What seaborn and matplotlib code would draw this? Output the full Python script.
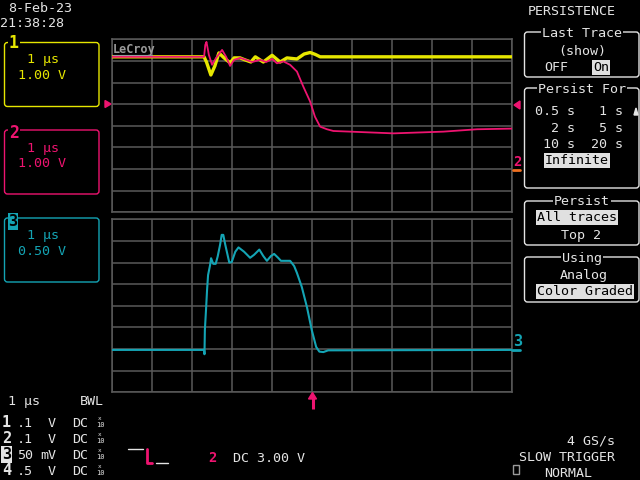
import numpy as np
import pandas as pd
import seaborn as sns
import matplotlib
matplotlib.use("Agg")
import matplotlib.pyplot as plt
from matplotlib.patches import FancyBboxPatch, Rectangle, Polygon

# ---------------- data (time in µs, values in volts) ----------------
ch1_t = [0, 2.30, 2.36, 2.47, 2.57, 2.67, 2.80, 2.95, 3.05, 3.20, 3.32, 3.47, 3.58,
         3.78, 4.00, 4.20, 4.37, 4.62, 4.80, 4.95, 5.08, 5.20, 10.0]
ch1_v = [3.19, 3.19, 2.95, 2.35, 2.77, 3.37, 3.14, 2.91, 3.14, 3.14, 3.05, 2.95, 3.19,
         2.95, 3.26, 2.95, 3.14, 3.09, 3.32, 3.39, 3.30, 3.19, 3.19]

ch2_t = [0, 2.30, 2.33, 2.36, 2.42, 2.50, 2.60, 2.75, 2.85, 2.95, 3.05, 3.20, 3.35,
         3.50, 3.70, 3.85, 4.00, 4.12, 4.28, 4.45, 4.62, 4.78, 4.95, 5.07, 5.20,
         5.37, 5.53, 5.95, 7.03, 8.28, 9.12, 10.0]
ch2_v = [3.19, 3.19, 3.74, 3.88, 3.28, 2.82, 3.14, 3.51, 3.19, 2.77, 3.05, 3.14, 3.05,
         2.95, 3.05, 2.95, 3.09, 2.89, 2.98, 2.82, 2.51, 1.81, 1.12, 0.42, -0.04,
         -0.16, -0.24, -0.27, -0.35, -0.27, -0.16, -0.13]

ch3_t = [0, 2.30, 2.31, 2.32, 2.35, 2.375, 2.40, 2.45, 2.475, 2.53, 2.59, 2.64, 2.70,
         2.74, 2.78, 2.83, 2.93, 2.99, 3.08, 3.16, 3.30, 3.45, 3.55, 3.68, 3.78, 3.87,
         3.97, 4.05, 4.15, 4.22, 4.45, 4.55, 4.62, 4.74, 4.87, 4.99, 5.10, 5.18, 5.28,
         5.40, 10.0]
ch3_v = [-1.02, -1.02, -1.12, -0.56, -0.07, 0.37, 0.71, 0.94, 1.10, 0.97, 0.97, 1.14, 1.41,
         1.64, 1.64, 1.41, 1.00, 1.01, 1.25, 1.35, 1.25, 1.11, 1.18, 1.30, 1.15, 1.04,
         1.15, 1.20, 1.11, 1.04, 1.04, 0.92, 0.76, 0.44, -0.03, -0.56, -0.95, -1.06, -1.07,
         -1.03, -1.02]

YEL = "#e6e600"
PNK = "#ee1470"
CYN = "#14a4b4"
GRID = "#5a5a5a"
WHT = "#e4e4e4"
ORG = "#f07020"

sns.set_style("dark")
plt.rcParams["font.family"] = ["DejaVu Sans Mono", "DejaVu Sans"]

fig = plt.figure(figsize=(6.4, 4.8), dpi=100, facecolor="black")

def grid_axes(top_px, bottom_px):
    ax = fig.add_axes([112 / 640, 1 - bottom_px / 480, 400.3 / 640, (bottom_px - top_px) / 480])
    ax.set_facecolor("black")
    ax.set_xlim(0, 10)
    ax.set_xticks(np.arange(0, 11, 1))
    ax.tick_params(length=0, labelbottom=False, labelleft=False)
    ax.grid(True, color=GRID, lw=1.1)
    for s in ax.spines.values():
        s.set_color(GRID)
        s.set_linewidth(1.1)
    return ax

ax1 = grid_axes(39.3, 212.3)
sns.lineplot(x=ch1_t, y=ch1_v, ax=ax1, color=YEL, lw=2.4, estimator=None, sort=False, zorder=3)
sns.lineplot(x=ch2_t, y=ch2_v, ax=ax1, color=PNK, lw=1.3, estimator=None, sort=False, zorder=4)
ax1.set_xlabel(""); ax1.set_ylabel("")
ax1.set_ylim(-4, 4)
ax1.set_yticks(np.arange(-4, 5, 1))
ax1.set_xlim(0, 10)

ax2 = grid_axes(219.3, 392.3)
sns.lineplot(x=ch3_t, y=ch3_v, ax=ax2, color=CYN, lw=1.5, estimator=None, sort=False, zorder=3)
ax2.set_xlabel(""); ax2.set_ylabel("")
ax2.set_ylim(-2, 2)
ax2.set_yticks(np.arange(-2, 2.01, 0.5))
ax2.set_xlim(0, 10)

# ---------------- overlay in pixel coordinates ----------------
ov = fig.add_axes([0, 0, 1, 1], facecolor="none")
ov.set_xlim(0, 640)
ov.set_ylim(480, 0)
ov.axis("off")

FS = 9.6

def T(x, y, s, color=WHT, ha="left", fs=FS, inv=None, **kw):
    if inv is not None:
        kw["bbox"] = dict(facecolor=inv, edgecolor="none", pad=0.6)
    ov.text(x, y, s, color=color, ha=ha, va="baseline", fontsize=fs, **kw)

def box(x0, y0, x1, y1, color, lw=1.0):
    ov.add_patch(FancyBboxPatch((x0 + 3, y0 + 3), x1 - x0 - 6, y1 - y0 - 6,
                                boxstyle="round,pad=3", fill=False, ec=color, lw=lw))

# date / time
T(8, 12, "8-Feb-23")
T(0, 27, "21:38:28")

# channel boxes
box(4.5, 42.5, 99, 106.5, YEL)
T(9, 48, "1", color=YEL, fs=12, weight="bold", inv="black")
T(27, 63, "1 μs", color=YEL)
T(18, 79, "1.00 V", color=YEL)

box(4.5, 130, 99, 194, PNK)
T(9, 138, "2", color=PNK, fs=12, weight="bold", inv="black")
T(27, 152, "1 μs", color=PNK)
T(18, 167, "1.00 V", color=PNK)

box(4.5, 218, 99, 282, CYN)
T(8.5, 226, "3", color="black", fs=11, weight="bold", inv=CYN)
T(27, 239, "1 μs", color=CYN)
T(18, 255, "0.50 V", color=CYN)

# LeCroy logo
T(113, 53, "LeCroy", color="#9a9a9a", fs=8.5, weight="bold")
ov.plot([113, 152], [55, 55], color="#9a9a9a", lw=0.8)

# markers around the grid
ov.add_patch(Polygon([[105, 100.5], [105, 107.5], [111, 104]], closed=True, color=PNK))
ov.add_patch(Polygon([[520, 101], [520, 109], [514, 105]], closed=True, color=PNK))
T(513, 166, "2", color=PNK, fs=10, weight="bold")
ov.plot([513, 520], [170, 170], color=ORG, lw=2)
T(513, 346, "3", color=CYN, fs=11, weight="bold")
ov.plot([512, 520], [350, 350], color=CYN, lw=2)
ov.plot([312.5, 312.5], [398, 409], color=PNK, lw=2.2, solid_capstyle="butt")
ov.add_patch(Polygon([[308.5, 399], [316.5, 399], [312.5, 392.5]], closed=True, color=PNK))

# right menu
T(528, 15, "PERSISTENCE")

box(524.5, 32, 639, 77, WHT)
T(582, 37, "Last Trace", ha="center", inv="black")
T(582, 55, "(show)", ha="center")
T(544, 71, "OFF")
T(593, 71, "On", color="black", inv="#e0e0e0")

box(524.5, 88, 639, 188, WHT)
T(582, 93, "Persist For", ha="center", inv="black")
T(575, 115, "0.5 s", ha="right")
T(623, 115, "1 s", ha="right")
T(575, 132, "2 s", ha="right")
T(623, 132, "5 s", ha="right")
T(575, 148, "10 s", ha="right")
T(623, 148, "20 s", ha="right")
T(545, 164, "Infinite", color="black", inv="#e0e0e0")
ov.add_patch(Polygon([[634, 115], [638, 115], [636, 108]], closed=True, color=WHT))

box(524.5, 201, 639, 245, WHT)
T(582, 205, "Persist", ha="center", inv="black")
T(537, 221, "All traces", color="black", inv="#e0e0e0")
T(561, 239, "Top 2")

box(524.5, 257, 639, 302, WHT)
T(582, 262, "Using", ha="center", inv="black")
T(560, 279, "Analog")
T(537, 295, "Color Graded", color="black", inv="#e0e0e0")

# bottom-left status
T(8, 405, "1 μs")
T(80, 405, "BWL")
rows = [("1", ".1", "V", 427), ("2", ".1", "V", 443), ("3", "50", "mV", 459), ("4", ".5", "V", 475)]
for num, val, unit, yb in rows:
    if num == "3":
        T(2, yb, num, color="black", fs=11, weight="bold", inv=WHT)
    else:
        T(2, yb, num, fs=11, weight="bold")
    T(17, yb, val)
    T(56, yb, unit, ha="right")
    T(72, yb, "DC")
    T(100, yb - 7.5, "x", ha="center", fs=4.3)
    T(100, yb, "10", ha="center", fs=5)

# trigger symbol
ov.plot([128, 143], [449, 449], color=WHT, lw=1)
ov.plot([147, 147, 152], [449, 463, 463], color=PNK, lw=2)
ov.plot([156, 168], [463, 463], color=WHT, lw=1)
T(208, 462, "2", color=PNK, fs=10, weight="bold")
T(233, 462, "DC 3.00 V")

# bottom-right status
T(615, 444, "4 GS/s", ha="right")
T(615, 461, "SLOW TRIGGER", ha="right")
T(544, 477, "NORMAL")
ov.add_patch(Rectangle((512.5, 464.5), 6.5, 9.5, fill=False, ec="#9a9a9a", lw=1))

fig.savefig("out.png", dpi=100, facecolor="black")
